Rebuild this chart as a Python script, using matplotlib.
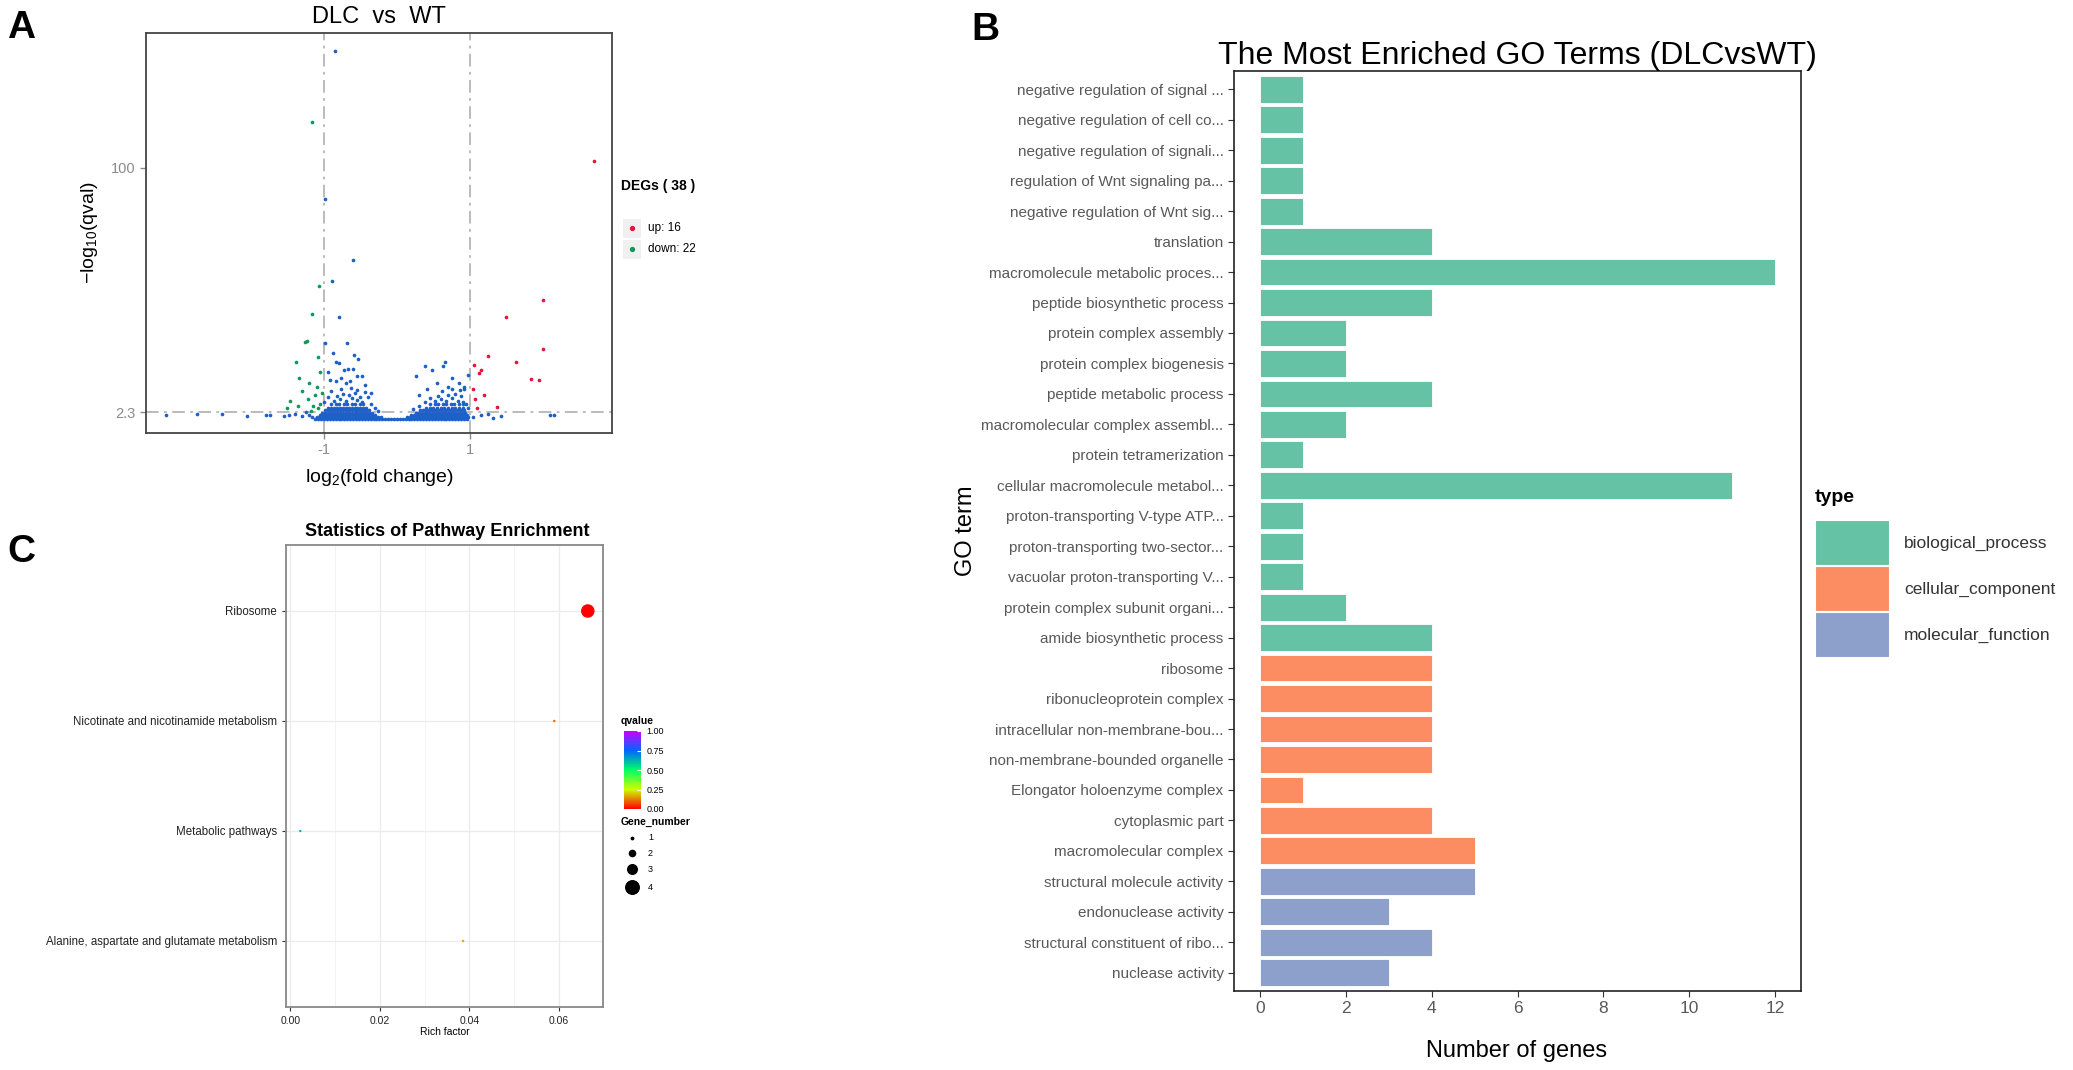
import matplotlib
matplotlib.use("Agg")
import matplotlib.pyplot as plt
from matplotlib.patches import Rectangle
from matplotlib.lines import Line2D
from matplotlib.colors import LinearSegmentedColormap
from matplotlib.ticker import NullLocator, MultipleLocator

plt.rcParams['font.family'] = ['Liberation Sans', 'DejaVu Sans']
plt.rcParams['mathtext.fontset'] = 'custom'
plt.rcParams['mathtext.rm'] = 'Liberation Sans'
plt.rcParams['mathtext.it'] = 'Liberation Sans:italic'
plt.rcParams['mathtext.bf'] = 'Liberation Sans:bold'

# ---------------- panel A : volcano ----------------
# dense non-DEG band, one y per row
blob_row_y = [2.07, 2.13, 2.20, 2.28, 2.37, 2.47, 2.60]
blob_rows = [
    [-1.12, -1.08, -1.04, -1.00, -0.96, -0.92, -0.88, -0.84, -0.80, -0.76, -0.72, -0.68, -0.64, -0.60,
     -0.56, -0.52, -0.48, -0.44, -0.40, -0.36, -0.32, -0.28, -0.24, -0.20, -0.16, -0.12, -0.08, -0.04,
     0.00, 0.04, 0.08, 0.12, 0.16, 0.20, 0.24, 0.28, 0.32, 0.36, 0.40, 0.44, 0.48, 0.52, 0.56, 0.60,
     0.64, 0.68, 0.72, 0.76, 0.80, 0.84, 0.88, 0.92, 0.96],
    [-1.10, -1.06, -1.02, -0.98, -0.94, -0.90, -0.86, -0.82, -0.78, -0.74, -0.70, -0.66, -0.62, -0.58,
     -0.54, -0.50, -0.46, -0.42, -0.38, -0.34, -0.30, -0.26, -0.22, 0.14, 0.18, 0.22, 0.26, 0.30, 0.34,
     0.38, 0.42, 0.46, 0.50, 0.54, 0.58, 0.62, 0.66, 0.70, 0.74, 0.78, 0.82, 0.86, 0.90, 0.94, 0.98],
    [-1.06, -1.02, -0.98, -0.94, -0.90, -0.86, -0.82, -0.78, -0.74, -0.70, -0.66, -0.62, -0.58, -0.54,
     -0.50, -0.46, -0.42, -0.38, -0.34, -0.30, 0.20, 0.24, 0.28, 0.32, 0.36, 0.40, 0.44, 0.48, 0.52,
     0.56, 0.60, 0.64, 0.68, 0.72, 0.76, 0.80, 0.84, 0.88, 0.92, 0.96],
    [-1.02, -0.98, -0.94, -0.90, -0.86, -0.82, -0.78, -0.74, -0.70, -0.66, -0.62, -0.58, -0.54, -0.50,
     -0.46, -0.42, -0.38, -0.34, 0.26, 0.30, 0.34, 0.38, 0.42, 0.46, 0.50, 0.54, 0.58, 0.62, 0.66, 0.70,
     0.74, 0.78, 0.82, 0.86, 0.90, 0.94],
    [-0.98, -0.94, -0.90, -0.86, -0.82, -0.78, -0.74, -0.70, -0.66, -0.62, -0.58, -0.54, -0.50, -0.46,
     -0.42, -0.38, 0.32, 0.36, 0.40, 0.44, 0.48, 0.52, 0.56, 0.60, 0.64, 0.68, 0.72, 0.76, 0.80, 0.84,
     0.88, 0.92],
    [-0.94, -0.90, -0.86, -0.82, -0.78, -0.74, -0.70, -0.66, -0.62, -0.58, -0.54, -0.50, -0.46, -0.42,
     0.40, 0.45, 0.50, 0.55, 0.60, 0.65, 0.70, 0.75, 0.80, 0.85, 0.90],
    [-0.90, -0.84, -0.79, -0.73, -0.68, -0.62, -0.57, -0.51, -0.46, 0.46, 0.52, 0.57, 0.63, 0.68, 0.74,
     0.79, 0.85, 0.90],
]
blue_x = [-0.85, -0.99, -0.60, -0.89, -0.79, -0.98, -0.68,
          -0.88, -0.84, -0.79, -0.59, -0.53, -0.67, -0.60, -0.48, -0.54, -0.72, -0.95, -0.92, -0.76,
          -0.64, -0.44, -0.35,
          0.38, 0.48, 0.63, 0.66, 0.26, 0.75, 0.85, 0.92, 0.55, 0.42, 0.70, 0.30, 0.97,
          -0.86, -0.78, -0.70, -0.62, -0.55, -0.48, -0.82, -0.74, -0.66, -0.58, -0.50, -0.90, -0.77,
          -0.63, -0.55, -0.40, -0.35, -0.95, -0.44, -0.70, -0.83, -0.30, -0.26, -1.00,
          0.52, 0.60, 0.68, 0.76, 0.84, 0.90, 0.56, 0.70, 0.80, 0.88, 0.45, 0.62, 0.75, 0.86, 0.38,
          0.95, 0.30, 0.92, 0.22, 0.98,
          -1.48, -1.39, -1.30, -1.20, -1.25, -1.16, -1.79, -1.74, -2.74, -2.40, -3.16, -2.05, -1.55,
          1.16, 1.25, 1.43, 2.10, 2.16, 1.05, 1.32]
blue_y = [607, 61.6, 24.1, 17.5, 10.0, 6.7, 6.7,
          5.7, 5.0, 4.9, 5.6, 5.2, 4.5, 4.5, 4.0, 4.0, 4.4, 4.3, 3.8, 3.9,
          3.7, 3.5, 3.1,
          4.7, 4.4, 4.7, 5.0, 4.0, 3.9, 3.6, 3.3, 3.6, 3.3, 3.4, 3.0, 4.1,
          2.75, 2.80, 2.72, 2.85, 2.78, 2.70, 2.95, 3.05, 2.98, 3.10, 2.92, 3.20, 3.30,
          3.35, 3.25, 2.90, 2.60, 2.90, 3.15, 3.60, 3.70, 2.45, 2.35, 2.70,
          2.75, 2.80, 2.72, 2.85, 2.75, 2.70, 2.95, 3.00, 3.05, 2.95, 2.85, 3.20, 3.30, 3.25, 2.70,
          2.60, 2.55, 3.40, 2.40, 2.45,
          2.20, 2.25, 2.18, 2.22, 2.30, 2.15, 2.20, 2.20, 2.24, 2.24, 2.20, 2.18, 2.16,
          2.20, 2.25, 2.18, 2.20, 2.20, 2.15, 2.12]
green_x = [-1.16, -1.07, -1.16, -1.26, -1.23, -1.47, -1.35, -1.22, -1.10, -1.15, -1.05,
           -1.38, -1.08, -1.05, -1.34, -1.12, -1.20, -1.03, -1.30, -1.50, -1.08, -1.18]
green_y = [201, 16.0, 10.5, 6.8, 6.9, 2.73, 2.55, 2.80, 3.39, 2.55, 2.60,
           5.0, 5.4, 4.3, 3.9, 3.0, 3.6, 3.1, 3.2, 2.45, 2.45, 2.35]
red_x = [2.71, 2.01, 1.50, 2.01, 1.25, 1.64, 1.06, 1.16, 1.13, 1.84, 1.95, 1.37, 1.07, 1.05, 1.20, 1.10]
red_y = [111, 12.9, 10.0, 6.1, 5.5, 5.0, 4.8, 4.4, 4.2, 3.86, 3.8, 2.51, 2.8, 3.3, 3.0, 2.45]

# ---------------- panel B : GO terms ----------------
go_terms = ["negative regulation of signal ...", "negative regulation of cell co...",
            "negative regulation of signali...", "regulation of Wnt signaling pa...",
            "negative regulation of Wnt sig...", "translation",
            "macromolecule metabolic proces...", "peptide biosynthetic process",
            "protein complex assembly", "protein complex biogenesis",
            "peptide metabolic process", "macromolecular complex assembl...",
            "protein tetramerization", "cellular macromolecule metabol...",
            "proton-transporting V-type ATP...", "proton-transporting two-sector...",
            "vacuolar proton-transporting V...", "protein complex subunit organi...",
            "amide biosynthetic process", "ribosome", "ribonucleoprotein complex",
            "intracellular non-membrane-bou...", "non-membrane-bounded organelle",
            "Elongator holoenzyme complex", "cytoplasmic part", "macromolecular complex",
            "structural molecule activity", "endonuclease activity",
            "structural constituent of ribo...", "nuclease activity"]
go_counts = [1, 1, 1, 1, 1, 4, 12, 4, 2, 2, 4, 2, 1, 11, 1, 1, 1, 2, 4,
             4, 4, 4, 4, 1, 4, 5, 5, 3, 4, 3]
go_types = ["biological_process"] * 19 + ["cellular_component"] * 7 + ["molecular_function"] * 4
type_names = ["biological_process", "cellular_component", "molecular_function"]

# ---------------- panel C : KEGG enrichment ----------------
pathways = ["Ribosome", "Nicotinate and nicotinamide metabolism", "Metabolic pathways",
            "Alanine, aspartate and glutamate metabolism"]
rich_factor = [0.0665, 0.0590, 0.0022, 0.0386]
qvalue = [0.0, 0.10, 0.62, 0.17]
gene_number = [4, 1, 1, 1]

W, H = 2073, 1070
fig = plt.figure(figsize=(W / 100, H / 100), dpi=100)


def box(l, t, r, b):
    return [l / W, 1 - b / H, (r - l) / W, (b - t) / H]


def pt(x, y):
    return x / W, 1 - y / H


def ftext(x, y, s, **kw):
    fig.text(*pt(x, y), s, **kw)


# panel letters
ftext(21, 28, "A", fontsize=28, fontweight="bold", ha="center", va="center")
ftext(985, 30, "B", fontsize=28, fontweight="bold", ha="center", va="center")
ftext(21, 552, "C", fontsize=28, fontweight="bold", ha="center", va="center")

# ---- A ----
c_blue, c_green, c_red = "#1f5fc8", "#0c9a5a", "#e8143c"
axA = fig.add_axes(box(146, 33, 612, 433))
axA.set_yscale("log")
for xs, yv in zip(blob_rows, blob_row_y):
    axA.scatter(xs, [yv] * len(xs), s=7, color=c_blue, linewidths=0, zorder=3)
axA.scatter(blue_x, blue_y, s=7, color=c_blue, linewidths=0, zorder=3)
axA.scatter(green_x, green_y, s=7, color=c_green, linewidths=0, zorder=4)
axA.scatter(red_x, red_y, s=7, color=c_red, linewidths=0, zorder=4)
dash = (0, (7, 3, 1.5, 3))
for v in (-1, 1):
    axA.axvline(v, color="#b5b5b5", lw=1.3, ls=dash, zorder=1)
axA.axhline(2.3, color="#b5b5b5", lw=1.3, ls=dash, zorder=1)
axA.set_xlim(-3.44, 2.95)
axA.set_ylim(1.67, 795)
axA.set_xticks([-1, 1])
axA.set_xticklabels(["-1", "1"])
axA.set_yticks([2.3, 100])
axA.set_yticklabels(["2.3", "100"])
axA.yaxis.set_minor_locator(NullLocator())
axA.tick_params(colors="#8a8a8a", labelsize=10.5, length=4, width=1)
for sp in axA.spines.values():
    sp.set_color("#444444")
    sp.set_linewidth(1.3)
axA.set_title("DLC  vs  WT", fontsize=17, pad=7)
ftext(89, 233, "\u2212log$_{10}$(qval)", fontsize=14, rotation=90, ha="center", va="center")
ftext(379, 478, "log$_{2}$(fold change)", fontsize=14, ha="center", va="center")

# A legend
ftext(621, 186, "DEGs ( 38 )", fontsize=10, fontweight="bold", ha="left", va="center")
for yc, col, lab in [(228, c_red, "up: 16"), (249, c_green, "down: 22")]:
    fig.add_artist(Rectangle(pt(622, yc + 10), 19 / W, 20 / H, transform=fig.transFigure,
                             facecolor="#f0f0f0", edgecolor="white", lw=0.8))
    fig.add_artist(Line2D([pt(631.5, yc)[0]], [pt(631.5, yc)[1]], marker="o", markersize=2.8,
                          color=col, transform=fig.transFigure))
    ftext(648, yc, lab, fontsize=8.5, ha="left", va="center")

# ---- B ----
type_colors = {"biological_process": "#66c2a5", "cellular_component": "#fc8d62",
               "molecular_function": "#8da0cb"}
axB = fig.add_axes(box(1234, 71, 1801, 991))
n = len(go_terms)
ypos = [n - 1 - i for i in range(n)]
axB.barh(ypos, go_counts, height=0.88, color=[type_colors[t] for t in go_types],
         edgecolor="white", linewidth=0.6)
axB.set_yticks(ypos)
axB.set_yticklabels(go_terms)
axB.set_xlim(-0.6, 12.6)
axB.set_ylim(-0.6, n - 0.4)
axB.set_xticks(range(0, 13, 2))
axB.tick_params(axis="y", labelsize=11, labelcolor="#595959", length=4, color="#333333")
axB.tick_params(axis="x", labelsize=12.5, labelcolor="#595959", length=4, color="#333333")
for sp in axB.spines.values():
    sp.set_color("#222222")
    sp.set_linewidth(1.2)
ftext(1517, 64, "The Most Enriched GO Terms (DLCvsWT)", fontsize=23, ha="center", va="baseline")
ftext(1517, 1051, "Number of genes", fontsize=17, ha="center", va="center")
ftext(966, 531, "GO term", fontsize=17, rotation=90, ha="center", va="center")

# B legend
ftext(1815, 497, "type", fontsize=14, fontweight="bold", ha="left", va="center")
for i, tname in enumerate(type_names):
    top = 520 + i * 46
    fig.add_artist(Rectangle(pt(1815, top + 46), 75 / W, 46 / H, transform=fig.transFigure,
                             facecolor=type_colors[tname], edgecolor="white", lw=1.5))
    ftext(1904, top + 23, tname, fontsize=12.5, color="#333333", ha="left", va="center")

# ---- C ----
cmap = LinearSegmentedColormap.from_list(
    "rainbow5", ["#FF0000", "#CCFF00", "#00FF66", "#0066FF", "#CC00FF"])
size_of = {1: 3, 2: 20, 3: 48, 4: 95}
axC = fig.add_axes(box(286, 545, 603, 1007))
cy = [4, 3, 2, 1]
sc = axC.scatter(rich_factor, cy, c=qvalue, cmap=cmap, vmin=0, vmax=1,
                 s=[size_of[g] for g in gene_number], linewidths=0, zorder=3)
axC.set_xlim(-0.0010, 0.0699)
axC.set_ylim(0.4, 4.6)
axC.set_xticks([0, 0.02, 0.04, 0.06])
axC.set_xticklabels(["0.00", "0.02", "0.04", "0.06"])
axC.xaxis.set_minor_locator(MultipleLocator(0.01))
axC.set_yticks(cy)
axC.set_yticklabels(pathways)
axC.grid(which="major", color="#ebebeb", lw=0.9)
axC.grid(which="minor", axis="x", color="#f2f2f2", lw=0.6)
axC.set_axisbelow(True)
axC.tick_params(which="minor", length=0)
axC.tick_params(axis="y", which="major", labelsize=8.3, length=3, color="#333333",
                labelcolor="#222222")
axC.tick_params(axis="x", which="major", labelsize=7.5, length=3, color="#333333",
                labelcolor="#222222")
for sp in axC.spines.values():
    sp.set_color("#888888")
    sp.set_linewidth(1.3)
axC.set_xlabel("Rich factor", fontsize=7.5, labelpad=1)
ftext(447, 531, "Statistics of Pathway Enrichment", fontsize=13, fontweight="bold",
      ha="center", va="center")

# C legends
ftext(621, 721, "qvalue", fontsize=7.5, fontweight="bold", ha="left", va="center")
cax = fig.add_axes(box(624, 731, 641, 809))
cb = fig.colorbar(sc, cax=cax, ticks=[0, 0.25, 0.5, 0.75, 1.0])
cb.ax.set_yticklabels(["0.00", "0.25", "0.50", "0.75", "1.00"])
cb.outline.set_visible(False)
cb.ax.tick_params(labelsize=6.5, length=3, color="white", direction="in", pad=4)

ftext(621, 822, "Gene_number", fontsize=7.5, fontweight="bold", ha="left", va="center")
for g, yc in zip([1, 2, 3, 4], [838, 853, 869, 887]):
    fig.add_artist(Line2D([pt(632, yc)[0]], [pt(632, yc)[1]], marker="o",
                          markersize=size_of[g] ** 0.5, color="black", lw=0,
                          transform=fig.transFigure))
    ftext(648, yc, str(g), fontsize=6.5, ha="left", va="center")

fig.savefig("out.png", dpi=100)
